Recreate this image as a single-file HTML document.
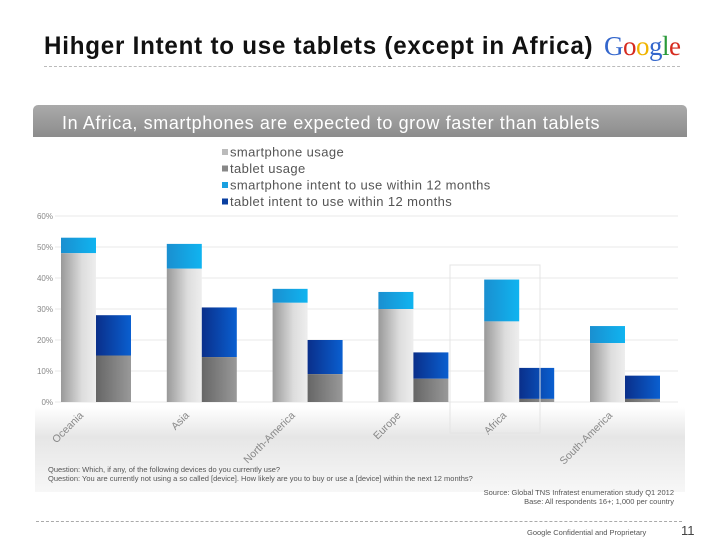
<!DOCTYPE html>
<html><head><meta charset="utf-8"><style>
body{margin:0;width:720px;height:540px;background:#fff;font-family:"Liberation Sans",sans-serif;overflow:hidden;position:relative}
</style></head><body>
<div style="position:absolute;left:44px;top:32px;font-size:25px;font-weight:bold;color:#111;letter-spacing:0.8px;transform:scaleX(0.966);transform-origin:0 0;white-space:nowrap">Hihger Intent to use tablets (except in Africa)</div>
<div style="position:absolute;left:604px;top:31px;font-family:'Liberation Serif',serif;font-size:27px;letter-spacing:-0.5px"><span style="color:#3366cc">G</span><span style="color:#d62b1f">o</span><span style="color:#f0b400">o</span><span style="color:#3366cc">g</span><span style="color:#2a9a3a">l</span><span style="color:#d62b1f">e</span></div>
<div style="position:absolute;left:44px;top:66px;width:636px;border-top:1px dashed #bbb"></div>
<div style="position:absolute;left:33px;top:105px;width:654px;height:32px;background:linear-gradient(#aaa,#8c8c8c);border-radius:5px 5px 0 0;color:#fff;font-size:18px;letter-spacing:0.6px;line-height:36px;padding-left:29px;box-sizing:border-box;white-space:nowrap">In Africa, smartphones are expected to grow faster than tablets</div>
<div style="position:absolute;left:35px;top:137px;width:650px;height:355px;background:linear-gradient(#fff 0,#fff 270px,#e6e6e6 300px,#f7f7f7 355px)"></div>
<svg id="chart" width="720" height="540" style="position:absolute;left:0;top:0">
<defs>
<linearGradient id="gS" x1="0" x2="1"><stop offset="0" stop-color="#999"/><stop offset="0.6" stop-color="#ddd"/><stop offset="1" stop-color="#eee"/></linearGradient>
<linearGradient id="gT" x1="0" x2="1"><stop offset="0" stop-color="#666"/><stop offset="1" stop-color="#999"/></linearGradient>
<linearGradient id="gSI" x1="0" x2="1"><stop offset="0" stop-color="#1a8fd0"/><stop offset="1" stop-color="#10b4f0"/></linearGradient>
<linearGradient id="gTI" x1="0" x2="1"><stop offset="0" stop-color="#0a2f8a"/><stop offset="1" stop-color="#0a5fd0"/></linearGradient>
</defs>
</svg>
<div style="position:absolute;left:48px;top:465px;font-size:7.5px;color:#555;line-height:9px">Question: Which, if any, of the following devices do you currently use?<br>Question: You are currently not using a so called [device]. How likely are you to buy or use a [device] within the next 12 months?</div>
<div style="position:absolute;right:46px;top:488px;font-size:7.5px;color:#555;line-height:9px;text-align:right">Source: Global TNS Infratest enumeration study Q1 2012<br>Base: All respondents 16+; 1,000 per country</div>
<div style="position:absolute;left:36px;top:521px;width:646px;border-top:1px dashed #aaa"></div>
<div style="position:absolute;left:527px;top:528px;font-size:7.5px;color:#555">Google Confidential and Proprietary</div>
<div style="position:absolute;left:681px;top:523px;font-size:13px;color:#444">11</div>
<script>
const categories=["Oceania","Asia","North-America","Europe","Africa","South-America"];
const smartUsage=[48,43,32,30,26,19];
const smartIntent=[53,51,36.5,35.5,39.5,24.5];
const tabletUsage=[15,14.5,9,7.5,1,1];
const tabletIntent=[28,30.5,20,16,11,8.5];
const yTicks=[0,10,20,30,40,50,60];
const legendLabels=["smartphone usage","tablet usage","smartphone intent to use within 12 months","tablet intent to use within 12 months"];
const legendColors=["#bbb","#888","#1aa0e0","#0a3fa0"];
const NS="http://www.w3.org/2000/svg";
const svg=document.getElementById('chart');
const y0=402,pxPer=3.1;
function y(v){return y0-v*pxPer;}
function gx(i){return 61+i*105.8;}
const bw=35;
function mk(t,a){const e=document.createElementNS(NS,t);for(const k in a)e.setAttribute(k,a[k]);svg.appendChild(e);return e;}
yTicks.forEach(t=>{
 const l=mk('line',{x1:55,x2:678,y1:y(t),y2:y(t),stroke:'#e8e8e8'});
 
 
 const tx=mk('text',{x:53,y:y(t)+3,'text-anchor':'end','font-size':8,fill:'#888'});
 tx.textContent=t+'%';
 
 
});
function bar(x,v0,v1,fill,name){const r=mk('rect',{x:x,y:y(v1),width:bw,height:y(v0)-y(v1),fill:fill});
 
 }
categories.forEach((c,i)=>{
 const x=gx(i);
 bar(x,smartUsage[i],smartIntent[i],'url(#gSI)','bar-smartphone-intent');
 bar(x,0,smartUsage[i],'url(#gS)','bar-smartphone-usage');
 bar(x+bw,tabletUsage[i],tabletIntent[i],'url(#gTI)','bar-tablet-intent');
 bar(x+bw,0,tabletUsage[i],'url(#gT)','bar-tablet-usage');
 const t=mk('text',{x:x+23,y:416,'text-anchor':'end','font-size':10.5,fill:'#888',transform:`rotate(-45 ${x+23} 416)`});
 t.textContent=c;
 
 
});
const hl=mk('rect',{x:450,y:265,width:90,height:168,fill:'none',stroke:'#e4e4e4'});


legendLabels.forEach((l,i)=>{
 const ly=153+i*16.5;
 const r=mk('rect',{x:222,y:ly-4,width:6,height:6,fill:legendColors[i]});
 
 
 const t=mk('text',{x:230,y:ly+3.5,'font-size':13,'letter-spacing':0.4,fill:'#555'});
 t.textContent=l;
 
 
});
</script>
</body></html>
